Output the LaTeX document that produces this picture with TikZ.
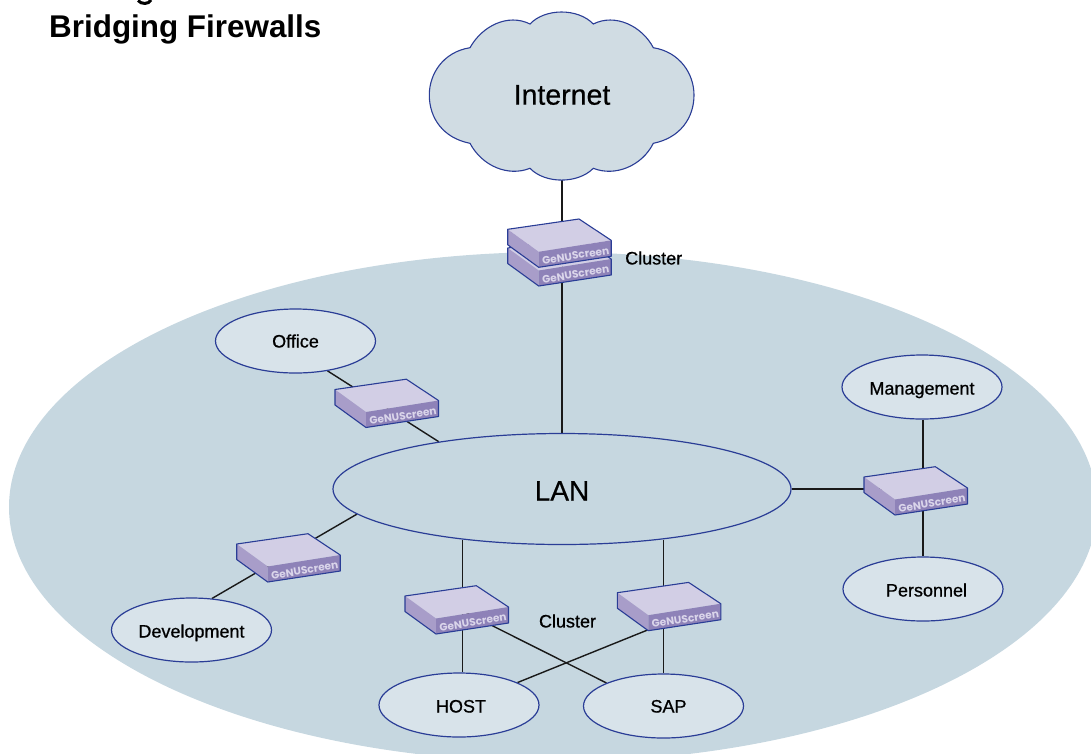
\documentclass[tikz,border=0pt]{standalone}
\usepackage{fontspec}
\setmainfont{Liberation Sans}
\newfontfamily\devfont{Poppins}
\usetikzlibrary{shapes.geometric}
\definecolor{navy}{HTML}{2A3D96}
\definecolor{bigblue}{HTML}{C6D7E0}
\definecolor{cloudblue}{HTML}{D0DCE3}
\definecolor{nodeblue}{HTML}{D8E3EA}
\definecolor{devtop}{HTML}{D2CEE5}
\definecolor{devleft}{HTML}{A89DC9}
\definecolor{devright}{HTML}{8E82B8}
\definecolor{devtext}{HTML}{DAD5EA}
\pgfdeclarelayer{bg}
\pgfdeclarelayer{lines}
\pgfsetlayers{bg,lines,main}
\tikzset{
  ell/.style={shape=ellipse,draw=navy,line width=1.2pt,fill=nodeblue,inner sep=0pt,
    minimum width=160pt,minimum height=64pt,text height=13pt,text depth=0pt,
    font=\fontsize{18}{20}\selectfont\addfontfeature{FakeBold=0.7}},
  lbl/.style={inner sep=0pt,font=\fontsize{18}{20}\selectfont\addfontfeature{FakeBold=0.7}},
  big/.style={inner sep=0pt,font=\fontsize{28.5}{30}\selectfont\addfontfeature{FakeBold=0.5}},
  conn/.style={line width=1.4pt,black!90},
  device/.pic={
    \path[fill=devtop] (0,0) -- (71.3,-10.3) -- (103.5,11) -- (31,22.5) -- cycle;
    \path[fill=devleft] (0,0) -- (31,22.5) -- (31,38) -- (0,15.5) -- cycle;
    \path[fill=devright] (31,22.5) -- (103.5,11) -- (103.5,27) -- (31,38) -- cycle;
    \draw[navy,line width=1.1pt,line join=round] (0,0) -- (71.3,-10.3) -- (103.5,11) -- (103.5,27) -- (31,38) -- (0,15.5) -- cycle;
    \node[inner sep=0pt,rotate=9,text=devtext,font=\devfont\bfseries\fontsize{10.6}{11}\selectfont] (-t) at (68,26.3) {GeNUScreen};
    \coordinate (-c) at (52,12);
    \coordinate (-f) at (31,37);
  }
}
\begin{document}
\begin{tikzpicture}[x=1pt,y=-1pt]
\useasboundingbox (0,0) rectangle (1091,753);
\begin{pgfonlayer}{bg}
  \clip (0,0) rectangle (1091,753);
  \fill[bigblue] (553,507) ellipse [x radius=544,y radius=255];
\end{pgfonlayer}
\path[clip] (0,0) rectangle (1091,753);
% title
\node[anchor=base west,inner sep=0pt,font=\fontsize{31.4}{33}\bfseries\selectfont] (title) at (49,37) {Bridging Firewalls};
\draw[line width=3pt] (138,0.5) .. controls (141,4.5) and (149,4.5) .. (151,0);
% cloud
\path[fill=cloudblue,draw=navy,line width=1.1pt]
  (470,47.7) .. controls (482,26) and (508,13) .. (530,24)
  .. controls (545,8) and (578,8) .. (593.3,24)
  .. controls (615,13) and (642,26) .. (653.3,47.7)
  .. controls (680,52) and (694,74) .. (694,95)
  .. controls (694,118) and (680,138) .. (653.3,143.3)
  .. controls (642,166) and (615,177) .. (593.3,168.3)
  .. controls (578,184) and (545,184) .. (530,168.3)
  .. controls (508,177) and (482,166) .. (470,143.3)
  .. controls (443,138) and (429.3,118) .. (429.3,95)
  .. controls (429.3,74) and (443,52) .. (470,47.7) -- cycle;
\coordinate (cloudb) at (562,179);
\node[big] (internet) at (562,95) {Internet};
% ellipses
\node[ell,minimum width=458pt,minimum height=111pt,fill=bigblue,text height=19pt,font=\fontsize{28}{30}\selectfont\addfontfeature{FakeBold=0.5}] (lan) at (562,489) {\raisebox{-2pt}{LAN}};
\node[ell] (office) at (295.5,341) {Office};
\node[ell] (mgmt) at (922,387) {\raisebox{-1pt}{Management}};
\node[ell] (pers) at (923,589) {\hspace*{7pt}\raisebox{-1pt}{Personnel}};
\node[ell] (devel) at (191.5,630) {\raisebox{-1pt}{Development}};
\node[ell] (host) at (459,705) {\hspace*{4pt}\raisebox{-1pt}{HOST}};
\node[ell] (sap) at (663.5,706) {\hspace*{10pt}SAP};
% devices
\pic (c2) at (507.7,248) {device};
\pic (c1) at (507.7,229.3) {device};
\pic (d1) at (335,389.5) {device};
\pic (d2) at (236.7,544) {device};
\pic (d3) at (864,477) {device};
\pic (d4) at (405,596) {device};
\pic (d5) at (617.3,592.7) {device};
\node[lbl,anchor=west] (clu1) at (625,258) {Cluster};
\node[lbl] (clu2) at (567.5,621) {Cluster};
% connectors
\begin{pgfonlayer}{lines}
  \draw[conn] (cloudb) -- (lan.north);
  \draw[conn] (office.-43.6) -- (lan.159);
  \draw[conn] (devel.57) -- (lan.187);
  \draw[conn] (lan.east) -- (d3-c);
  \draw[conn] (mgmt.south -| pers.north) -- (pers.north);
  \draw[conn] (lan.207.5) -- (lan.207.5 |- host.north);
  \draw[conn] (sap.north |- lan.-27) -- (sap.north);
  \draw[conn] (d4-c) -- (sap.158);
  \draw[conn] (d5-f) -- (host.21);
\end{pgfonlayer}
\end{tikzpicture}
\end{document}
